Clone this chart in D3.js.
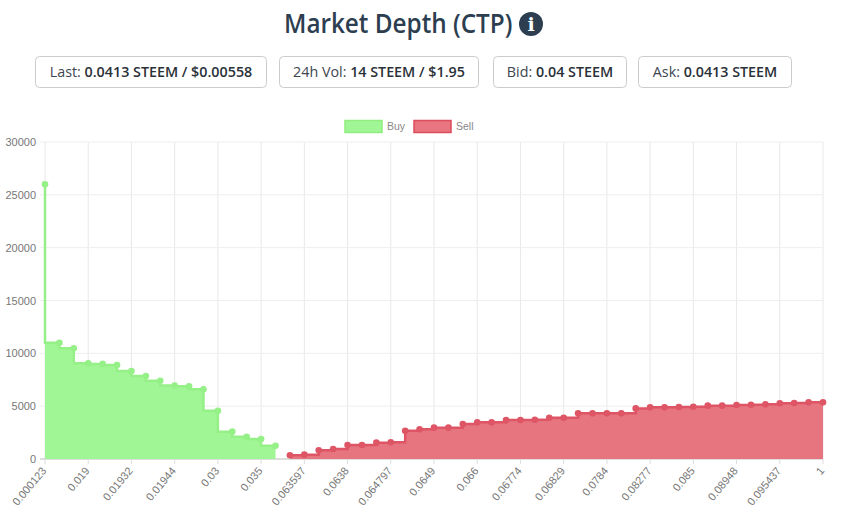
<!DOCTYPE html>
<html><head><meta charset="utf-8">
<script src="https://cdnjs.cloudflare.com/ajax/libs/d3/7.8.5/d3.min.js"></script>
<style>html,body{margin:0;padding:0;background:#fff;overflow:hidden}svg{display:block}</style>
</head><body><svg id="c" width="854" height="515"></svg>
<script>
const tickLabels=["0.000123","0.019","0.01932","0.01944","0.03","0.035","0.063597","0.0638","0.064797","0.0649","0.066","0.06774","0.06829","0.0784","0.08277","0.085","0.08948","0.095437","1"];
const buyValues=[26000,11000,10470,9050,9000,8900,8330,7850,7400,6950,6880,6600,4570,2590,2110,1890,1260];
const sellValues=[350,410,820,950,1325,1325,1545,1580,2680,2810,2965,2965,3310,3470,3470,3690,3690,3720,3910,3910,4320,4320,4320,4320,4790,4890,4890,4920,4950,5050,5050,5110,5140,5170,5270,5300,5360,5360];
const yTicks=[0,5000,10000,15000,20000,25000,30000];
const stats=[["Last: ","0.0413 STEEM / $0.00558"],["24h Vol: ","14 STEEM / $1.95"],["Bid: ","0.04 STEEM"],["Ask: ","0.0413 STEEM"]];
const seriesNames=["Buy","Sell"];
const svg=d3.select("#c");
const L=45,R=823,T=142,B=459;
const count=buyValues.length+sellValues.length;
const x=d3.scaleLinear().domain([0,count-1]).range([L,R]);
const y=d3.scaleLinear().domain([0,30000]).range([B,T]);
const sans="'Open Sans',sans-serif", arial="'Liberation Sans',Arial,sans-serif";

// title
svg.append("text").attr("transform","translate(284,33) scale(0.9,1)")
 .attr("font-family",sans).attr("font-size",27).attr("font-weight",600).attr("fill","#2c3e50").text("Market Depth (CTP)");
svg.append("circle").attr("cx",531).attr("cy",24).attr("r",12).attr("fill","#2c3e50");
svg.append("text").attr("x",531).attr("y",31).attr("text-anchor","middle").attr("font-family","'DejaVu Serif',serif")
 .attr("font-size",19).attr("font-weight",700).attr("fill","#fff").text("i");

// stat boxes
const boxes=[[35,232],[279,200],[493,134],[638,154]];
stats.forEach((s,i)=>{
  const [bx,bw]=boxes[i];
  svg.append("rect").attr("x",bx+.5).attr("y",56.5).attr("width",bw-1).attr("height",31).attr("rx",4)
   .attr("fill","#fff").attr("stroke","#ccc");
  const t=svg.append("text").attr("x",bx+bw/2).attr("y",77).attr("text-anchor","middle")
   .attr("font-family",sans).attr("font-size",14.3).attr("fill","#3c4650");
  t.append("tspan").text(s[0]);
  t.append("tspan").attr("font-weight",600).attr("fill","#2a3138").text(s[1]);
});

// legend
[[345,"#a0f594","#90ee80",seriesNames[0],387],[414,"#e8757f","#dc4c5c",seriesNames[1],456]].forEach(d=>{
  svg.append("rect").attr("x",d[0]).attr("y",120.5).attr("width",37).attr("height",12).attr("fill",d[1]).attr("stroke",d[2]).attr("stroke-width",1.5);
  svg.append("text").attr("x",d[4]).attr("y",130).attr("font-family",arial).attr("font-size",10.5).attr("fill","#888").text(d[3]);
});

// grid
const grid=svg.append("g");
tickLabels.forEach((_,i)=>{const px=x(i*3);
  grid.append("line").attr("x1",px).attr("x2",px).attr("y1",T).attr("y2",B).attr("stroke","#e8e8e8").attr("stroke-width",1);});
yTicks.forEach(v=>{
  grid.append("line").attr("x1",L-5).attr("x2",R).attr("y1",y(v)).attr("y2",y(v)).attr("stroke",v===0?"#bbb":"#eee").attr("stroke-width",1);
  svg.append("text").attr("x",L-9).attr("y",y(v)+4).attr("text-anchor","end").attr("font-family",arial).attr("font-size",11).attr("fill","#777").text(v);
});
tickLabels.forEach((l,i)=>{const px=x(i*3);
  grid.append("line").attr("x1",px).attr("x2",px).attr("y1",B).attr("y2",B+5).attr("stroke","#ddd");
  svg.append("text").attr("transform",`translate(${px+2},${B+12}) rotate(-50)`).attr("text-anchor","end")
   .attr("font-family",arial).attr("font-size",11).attr("fill","#777").text(l);
});

// series
const draw=(vals,offset,curve,fill,stroke)=>{
  const data=vals.map((v,i)=>({i:i+offset,v}));
  svg.append("path").datum(data).attr("fill",fill)
   .attr("d",d3.area().curve(curve).x(d=>x(d.i)).y0(B).y1(d=>y(d.v)));
  svg.append("path").datum(data).attr("fill","none").attr("stroke",stroke).attr("stroke-width",2.5)
   .attr("d",d3.line().curve(curve).x(d=>x(d.i)).y(d=>y(d.v)));
  svg.append("g").selectAll("circle").data(data).join("circle")
   .attr("cx",d=>x(d.i)).attr("cy",d=>y(d.v)).attr("r",3.3).attr("fill",stroke);
};
draw(buyValues,0,d3.curveStepBefore,"#a0f594","#95f087");
draw(sellValues,buyValues.length,d3.curveStepAfter,"#e6757f","#de5565");
</script></body></html>
